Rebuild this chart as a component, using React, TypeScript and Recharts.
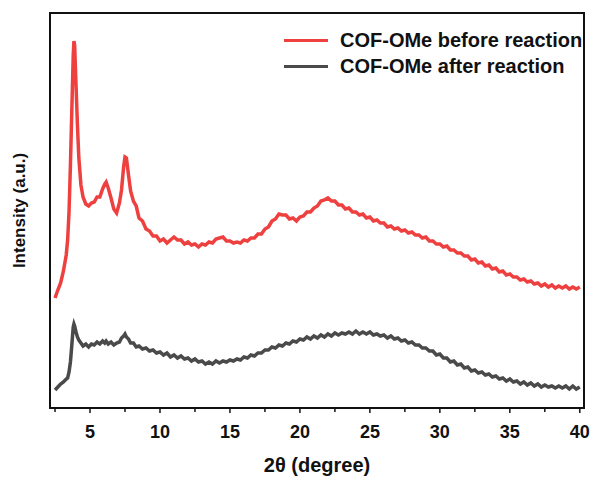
import { LineChart, Line, XAxis, YAxis } from 'recharts';

// 2θ positions (degree)
const twoTheta = [
  2.5, 2.7, 2.9, 3.1, 3.3, 3.4, 3.5, 3.6, 3.7, 3.8,
  3.85, 3.9, 4.0, 4.1, 4.2, 4.35, 4.5, 4.7, 4.9, 5.1,
  5.3, 5.5, 5.7, 5.9, 6.05, 6.15, 6.3, 6.5, 6.7, 6.9,
  7.1, 7.25, 7.4, 7.5, 7.6, 7.75, 7.9, 8.1, 8.3,
  8.5, 8.75, 9.0, 9.25, 9.5, 9.75, 10.0, 10.25, 10.5, 10.75,
  11.0, 11.25, 11.5, 11.75, 12.0, 12.25, 12.5, 12.75, 13.0, 13.25,
  13.5, 13.75, 14.0, 14.25, 14.5, 14.75, 15.0, 15.25, 15.5, 15.75,
  16.0, 16.25, 16.5, 16.75, 17.0, 17.25, 17.5, 17.75, 18.0, 18.25,
  18.5, 18.75, 19.0, 19.25, 19.5, 19.75, 20.0, 20.25, 20.5, 20.75,
  21.0, 21.25, 21.5, 21.75, 22.0, 22.25, 22.5, 22.75, 23.0, 23.25,
  23.5, 23.75, 24.0, 24.25, 24.5, 24.75, 25.0, 25.25, 25.5, 25.75,
  26.0, 26.25, 26.5, 26.75, 27.0, 27.25, 27.5, 27.75, 28.0, 28.25,
  28.5, 28.75, 29.0, 29.25, 29.5, 29.75, 30.0, 30.25, 30.5, 30.75,
  31.0, 31.25, 31.5, 31.75, 32.0, 32.25, 32.5, 32.75, 33.0, 33.25,
  33.5, 33.75, 34.0, 34.25, 34.5, 34.75, 35.0, 35.25, 35.5, 35.75,
  36.0, 36.25, 36.5, 36.75, 37.0, 37.25, 37.5, 37.75, 38.0, 38.25,
  38.5, 38.75, 39.0, 39.25, 39.5, 39.75, 40.0
];

// COF-OMe before reaction (a.u.)
const beforeReaction = [
  110, 118, 125, 137, 153, 168, 196, 243, 298, 353,
  367, 363, 323, 283, 250, 223, 211, 204, 202, 205,
  206, 211, 211, 219, 224, 226, 220, 210, 199, 195,
  205, 218, 241, 251, 250, 233, 217, 207, 202,
  190, 187, 179, 177, 172, 172, 167, 169, 165, 168,
  171, 168, 168, 164, 166, 163, 164, 161, 164, 163,
  166, 165, 169, 170, 171, 167, 167, 165, 166, 165,
  168, 167, 170, 170, 174, 174, 179, 181, 187, 189,
  194, 193, 193, 189, 190, 187, 191, 192, 196, 196,
  200, 202, 207, 208, 210, 207, 207, 203, 203, 199,
  200, 196, 196, 193, 194, 190, 191, 187, 188, 185,
  185, 181, 182, 179, 180, 177, 178, 175, 176, 173,
  173, 170, 171, 167, 167, 164, 164, 161, 162, 158,
  158, 155, 155, 152, 152, 148, 149, 145, 146, 142,
  143, 139, 140, 136, 137, 133, 134, 131, 131, 128,
  129, 126, 127, 124, 125, 122, 124, 121, 123, 120,
  122, 120, 122, 119, 121, 119, 121
];

// COF-OMe after reaction (a.u.)
const afterReaction = [
  18, 21, 24, 26, 29, 30, 36, 46, 63, 81,
  84, 82, 76, 71, 68, 65, 62, 64, 61, 64,
  63, 66, 64, 67, 65, 67, 64, 66, 63, 65,
  66, 70, 72, 74, 71, 69, 65, 65, 61,
  62, 59, 60, 57, 58, 55, 56, 53, 55, 51,
  53, 50, 52, 49, 50, 47, 49, 46, 47, 44,
  46, 44, 47, 45, 47, 46, 48, 47, 49, 48,
  51, 50, 53, 52, 55, 55, 58, 58, 61, 60,
  63, 62, 65, 64, 67, 66, 69, 68, 71, 69,
  72, 70, 73, 71, 74, 72, 75, 73, 75, 74,
  76, 74, 77, 74, 76, 74, 76, 73, 74, 72,
  73, 70, 72, 69, 70, 67, 68, 65, 66, 63,
  63, 60, 60, 57, 57, 53, 54, 50, 50, 46,
  47, 43, 44, 40, 41, 37, 38, 35, 36, 33,
  34, 31, 32, 29, 30, 27, 29, 26, 27, 24,
  26, 23, 25, 22, 24, 21, 23, 21, 22, 20,
  22, 20, 22, 19, 22, 19, 21
];

const xTicks = [2.5, 5, 7.5, 10, 12.5, 15, 17.5, 20, 22.5, 25, 27.5, 30, 32.5, 35, 37.5, 40];

const seriesNames = ['COF-OMe before reaction', 'COF-OMe after reaction'];
const seriesColors = ['#ef4040', '#4a4a4a'];

const data = twoTheta.map((t, i) => ({
  t,
  before: beforeReaction[i],
  after: afterReaction[i]
}));

const FONT = 'Liberation Sans, Arial, sans-serif';

const XTick = ({ x, y, payload }: any) => {
  const major = payload.value % 5 === 0;
  return (
    <g>
      <line x1={x} y1={y} x2={x} y2={y + (major ? 5 : 4)} stroke="#111" strokeWidth={1.5} />
      {major && (
        <text x={x} y={y + 30} textAnchor="middle" fontFamily={FONT} fontWeight="bold" fontSize={18} fill="#111">
          {payload.value}
        </text>
      )}
    </g>
  );
};

const LegendBox = () => (
  <div
    style={{
      position: 'absolute',
      left: 284,
      top: 27,
      fontFamily: FONT,
      fontWeight: 'bold',
      fontSize: 20,
      color: '#111',
      whiteSpace: 'nowrap'
    }}
  >
    {seriesNames.map((name, i) => (
      <div key={name} style={{ display: 'flex', alignItems: 'center', height: 26 }}>
        <span style={{ display: 'inline-block', width: 44, height: 3, background: seriesColors[i], marginRight: 12 }} />
        <span>{name}</span>
      </div>
    ))}
  </div>
);

// box round the plot area (margin left 49 + axis 1, top 12 + 1, bottom at 478 - 70)
const PlotFrame = () => (
  <div
    style={{
      position: 'absolute',
      left: 49,
      top: 12,
      width: 536,
      height: 397,
      boxSizing: 'border-box',
      border: '2px solid #111',
      pointerEvents: 'none'
    }}
  />
);

const App = () => (
  <div style={{ position: 'absolute', left: 0, top: 0 }}>
    <LineChart width={593} height={478} data={data} margin={{ top: 12, right: 8, left: 49, bottom: 0 }}>
      <XAxis
        dataKey="t"
        type="number"
        domain={[2.14, 40.3]}
        ticks={xTicks}
        interval={0}
        height={70}
        tickSize={0}
        tickMargin={0}
        tickLine={false}
        tick={<XTick />}
        axisLine={{ stroke: '#111', strokeWidth: 2 }}
        label={{ value: '2θ  (degree)', position: 'insideBottom', offset: 6, fontSize: 20, fontWeight: 'bold', fill: '#111', fontFamily: FONT }}
      />
      <XAxis
        xAxisId="top"
        orientation="top"
        dataKey="t"
        type="number"
        domain={[2.14, 40.3]}
        height={1}
        tick={false}
        tickLine={false}
        axisLine={{ stroke: '#111', strokeWidth: 2 }}
      />
      <YAxis
        type="number"
        domain={[0, 395]}
        width={1}
        tick={false}
        tickLine={false}
        axisLine={{ stroke: '#111', strokeWidth: 2 }}
        label={{ value: 'Intensity (a.u.)', angle: -90, position: 'left', offset: 30, fontSize: 17, fontWeight: 'bold', fill: '#111', fontFamily: FONT, textAnchor: 'middle' }}
      />
      <YAxis
        yAxisId="right"
        orientation="right"
        type="number"
        domain={[0, 395]}
        width={1}
        tick={false}
        tickLine={false}
        axisLine={{ stroke: '#111', strokeWidth: 2 }}
      />
      <Line dataKey="before" name={seriesNames[0]} stroke={seriesColors[0]} strokeWidth={3.5} dot={false} isAnimationActive={false} />
      <Line dataKey="after" name={seriesNames[1]} stroke={seriesColors[1]} strokeWidth={3.5} dot={false} isAnimationActive={false} />
    </LineChart>
    <PlotFrame />
    <LegendBox />
  </div>
);

export default App;
